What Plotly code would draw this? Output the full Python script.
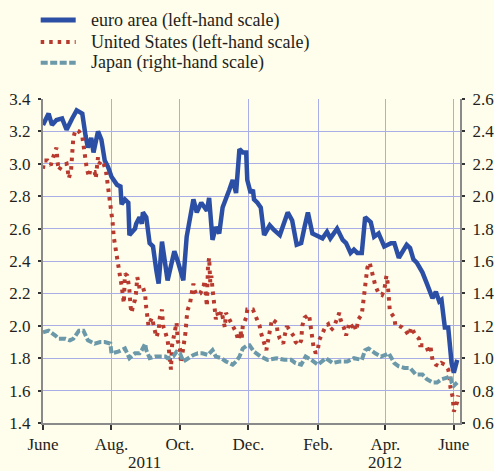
import pandas as pd
import plotly.graph_objects as go

START = "2011-06-01"

# euro area (left-hand scale): day offset from 1 June 2011, yield (%)
euro_days = [0, 5, 8, 12, 17, 21, 26, 30, 35, 36, 38, 40, 43, 45, 49, 52, 55, 58, 61, 66,
             69, 70, 73, 76, 77, 82, 83, 86, 88, 89, 92, 95, 98, 101, 103, 106, 109, 111, 115, 117,
             120, 125, 128, 131, 134, 137, 141, 146, 148, 151, 154, 157, 160, 166, 169, 172, 175, 178, 181, 182,
             185, 187, 188, 191, 194, 197, 202, 206, 211, 218, 222, 226, 230, 233, 236, 240, 245, 249, 253, 256,
             262, 267, 270, 274, 277, 280, 284, 287, 292, 295, 299, 304, 310, 313, 317, 320, 324, 327, 330, 333,
             338, 342, 347, 350, 353, 355, 358, 361, 364, 366, 369]
euro_vals = [3.24, 3.31, 3.24, 3.27, 3.28, 3.21, 3.28, 3.33, 3.31, 3.25, 3.17, 3.10, 3.16, 3.07, 3.20, 3.15, 3.02, 2.98, 2.92, 2.87,
             2.86, 2.75, 2.78, 2.76, 2.56, 2.60, 2.63, 2.67, 2.63, 2.70, 2.67, 2.51, 2.49, 2.34, 2.26, 2.52, 2.35, 2.28, 2.40, 2.46,
             2.40, 2.28, 2.55, 2.66, 2.78, 2.70, 2.76, 2.71, 2.79, 2.53, 2.61, 2.57, 2.73, 2.84, 2.90, 2.82, 3.09, 3.07, 3.07, 2.90,
             2.82, 2.84, 2.78, 2.76, 2.73, 2.56, 2.62, 2.59, 2.56, 2.70, 2.65, 2.50, 2.51, 2.61, 2.70, 2.57, 2.55, 2.54, 2.58, 2.54,
             2.60, 2.53, 2.51, 2.45, 2.47, 2.45, 2.45, 2.67, 2.64, 2.55, 2.57, 2.49, 2.51, 2.51, 2.42, 2.46, 2.50, 2.48, 2.41, 2.39,
             2.33, 2.26, 2.17, 2.21, 2.15, 2.16, 1.99, 1.99, 1.77, 1.71, 1.79]

# United States (left-hand scale)
us_days = [0, 1, 4, 7, 8, 12, 13, 14, 17, 21, 22, 23, 25, 26, 27, 29, 32, 35, 36, 37,
           38, 39, 41, 42, 44, 46, 47, 49, 50, 52, 54, 56, 57, 58, 59, 60, 61, 62, 63, 64,
           65, 67, 68, 69, 70, 71, 72, 73, 75, 76, 77, 78, 79, 80, 82, 83, 84, 85, 86, 89,
           91, 92, 93, 94, 97, 98, 100, 101, 103, 104, 106, 107, 109, 111, 112, 113, 114, 115, 116, 117,
           119, 120, 122, 123, 125, 126, 127, 128, 129, 131, 132, 133, 134, 135, 137, 140, 143, 144, 145, 146,
           147, 148, 149, 150, 151, 152, 153, 154, 155, 157, 159, 160, 162, 163, 166, 169, 172, 174, 176, 177,
           178, 181, 182, 187, 190, 193, 194, 196, 199, 200, 202, 204, 208, 209, 211, 214, 215, 217, 218, 221,
           224, 225, 228, 230, 231, 233, 237, 238, 239, 241, 243, 245, 246, 249, 252, 254, 256, 259, 264, 265,
           268, 270, 273, 276, 277, 279, 281, 284, 285, 286, 287, 288, 289, 291, 293, 295, 296, 299, 302, 304,
           306, 307, 308, 309, 313, 314, 317, 320, 323, 326, 328, 332, 335, 336, 341, 344, 345, 347, 350, 353,
           355, 358, 361, 362, 363, 365, 366, 369, 370]
us_vals = [2.97, 3.02, 3.02, 2.99, 3.02, 3.10, 3.01, 2.96, 2.99, 3.00, 2.96, 2.91, 2.96, 3.06, 3.16, 3.21, 3.20, 3.17, 3.13, 3.07,
           3.02, 2.97, 2.92, 2.96, 2.95, 2.95, 2.91, 3.04, 3.00, 3.02, 3.00, 2.96, 2.91, 2.87, 2.82, 2.78, 2.73, 2.64, 2.55, 2.50,
           2.45, 2.39, 2.34, 2.29, 2.25, 2.20, 2.14, 2.32, 2.31, 2.27, 2.22, 2.12, 2.08, 2.12, 2.16, 2.21, 2.30, 2.27, 2.23, 2.24,
           2.19, 2.11, 2.05, 2.00, 2.05, 2.02, 1.97, 1.93, 1.97, 2.05, 2.10, 2.00, 1.96, 1.91, 1.86, 1.77, 1.73, 1.88, 1.92, 1.97,
           2.02, 1.91, 1.86, 1.77, 1.85, 1.91, 1.96, 2.05, 2.10, 2.14, 2.18, 2.23, 2.26, 2.22, 2.19, 2.20, 2.24, 2.28, 2.18, 2.12,
           2.37, 2.42, 2.27, 2.31, 2.23, 2.18, 2.09, 2.04, 2.08, 2.05, 2.09, 2.05, 1.99, 2.08, 2.04, 1.99, 1.96, 1.91, 1.97, 1.92,
           2.00, 2.05, 2.10, 2.10, 2.05, 2.00, 1.96, 1.92, 1.85, 1.89, 1.97, 2.04, 2.02, 1.96, 1.92, 1.89, 1.93, 1.99, 1.99, 1.96,
           1.93, 1.90, 1.88, 1.91, 2.00, 2.05, 2.07, 2.02, 1.97, 1.87, 1.83, 1.86, 1.91, 1.96, 2.00, 2.01, 1.97, 1.99, 2.08, 2.04,
           1.99, 1.94, 2.02, 1.99, 2.01, 1.97, 2.04, 2.07, 2.12, 2.21, 2.26, 2.30, 2.36, 2.39, 2.34, 2.29, 2.25, 2.20, 2.19, 2.22,
           2.31, 2.27, 2.18, 2.09, 2.05, 2.00, 2.00, 1.99, 1.97, 1.94, 1.99, 1.94, 1.92, 1.88, 1.88, 1.83, 1.88, 1.79, 1.76, 1.75,
           1.77, 1.76, 1.73, 1.70, 1.62, 1.56, 1.47, 1.53, 1.57]

# Japan (right-hand scale)
jp_days = [0, 5, 11, 14, 20, 24, 27, 32, 36, 40, 46, 51, 55, 60, 61, 67, 73, 77, 82, 86,
           88, 91, 92, 95, 100, 104, 109, 111, 116, 119, 122, 125, 129, 134, 138, 142, 147, 151, 154, 159,
           163, 169, 172, 175, 178, 182, 184, 188, 194, 200, 208, 215, 221, 225, 230, 234, 239, 245, 252, 258,
           264, 271, 277, 284, 287, 290, 296, 301, 305, 308, 313, 317, 322, 327, 332, 338, 342, 347, 351, 355,
           360, 363, 364, 366, 369]
jp_vals = [1.16, 1.17, 1.14, 1.12, 1.12, 1.11, 1.12, 1.17, 1.17, 1.11, 1.09, 1.10, 1.10, 1.09, 1.03, 1.04, 1.06, 1.00, 1.03, 1.03,
           1.05, 1.09, 1.05, 1.00, 1.01, 1.01, 1.01, 1.00, 1.01, 1.04, 1.03, 0.98, 1.00, 1.02, 1.03, 1.03, 1.02, 1.05, 1.01, 1.00,
           0.98, 0.96, 0.98, 1.01, 1.06, 1.08, 1.08, 1.04, 1.01, 0.99, 1.00, 0.99, 0.99, 0.97, 0.96, 1.01, 0.99, 0.96, 1.00, 0.97,
           0.98, 0.98, 1.00, 0.99, 1.05, 1.06, 1.03, 1.01, 1.02, 1.03, 0.97, 0.95, 0.94, 0.94, 0.90, 0.90, 0.87, 0.85, 0.85, 0.87,
           0.88, 0.89, 0.85, 0.83, 0.85]

tick_dates = ["2011-06-01", "2011-08-01", "2011-10-01", "2011-12-01", "2012-02-01", "2012-04-01", "2012-06-01"]
tick_labels = ["June", "Aug.", "Oct.", "Dec.", "Feb.", "Apr.", "June"]
year_labels = ["2011", "2012"]
year_dates = ["2011-08-30", "2012-04-01"]
left_ticks = [1.4, 1.6, 1.8, 2.0, 2.2, 2.4, 2.6, 2.8, 3.0, 3.2, 3.4]
right_ticks = [0.6, 0.8, 1.0, 1.2, 1.4, 1.6, 1.8, 2.0, 2.2, 2.4, 2.6]
names = ["euro area (left-hand scale)", "United States (left-hand scale)", "Japan (right-hand scale)"]


def to_dates(days):
    return pd.Timestamp(START) + pd.to_timedelta(days, unit="D")


BG = "#fffdeb"
GRID = "#a9aee6"
AXIS = "#8a8a8a"
FONT = "Liberation Serif, Times New Roman, Times, serif"
TXT = "#231f20"
COLORS = ["#2c4fa6", "#b8392e", "#6b99aa"]
WIDTHS = [4.5, 4, 4]
DASHES = ["solid", "3.5px,5px", "7px,2.5px"]

fig = go.Figure()
fig.add_trace(go.Scatter(x=to_dates(euro_days), y=euro_vals, mode="lines", name=names[0],
                         line=dict(color=COLORS[0], width=WIDTHS[0], dash=DASHES[0])))
fig.add_trace(go.Scatter(x=to_dates(us_days), y=us_vals, mode="lines", name=names[1],
                         line=dict(color=COLORS[1], width=WIDTHS[1], dash=DASHES[1])))
fig.add_trace(go.Scatter(x=to_dates(jp_days), y=jp_vals, mode="lines", name=names[2], yaxis="y2",
                         line=dict(color=COLORS[2], width=WIDTHS[2], dash=DASHES[2])))

# legend drawn as line samples + text labels (paper coordinates)
legend_rows_y = [1.2438, 1.1759, 1.112]
for name, col, w, d, ly in zip(names, COLORS, WIDTHS, DASHES, legend_rows_y):
    fig.add_shape(type="line", xref="paper", yref="paper", x0=-0.0055, x1=0.0784, y0=ly, y1=ly,
                  line=dict(color=col, width=w + 0.5 if d == "solid" else w, dash=d))
    fig.add_annotation(x=0.110, y=ly, xref="paper", yref="paper", xanchor="left", yanchor="middle",
                       text=name, showarrow=False, font=dict(family=FONT, size=18, color=TXT))

for yl, yd in zip(year_labels, year_dates):
    fig.add_annotation(x=yd, y=-0.122, xref="x", yref="paper", yanchor="middle",
                       text=yl, showarrow=False, font=dict(family=FONT, size=17, color=TXT))

fig.update_layout(
    width=494, height=471,
    margin=dict(l=43, r=34, t=99, b=48),
    paper_bgcolor=BG, plot_bgcolor=BG,
    font=dict(family=FONT, size=17, color=TXT),
    showlegend=False,
    xaxis=dict(type="date", range=["2011-06-01", "2012-06-06 12:00"], tickvals=tick_dates, ticktext=tick_labels,
               showgrid=True, gridcolor=GRID, gridwidth=1, showline=True, linecolor=AXIS, linewidth=2,
               ticks="outside", ticklen=5, tickcolor="#333333", tickwidth=2, zeroline=False, automargin=False),
    yaxis=dict(range=[1.4, 3.4], tickvals=left_ticks, tickformat=".1f", showgrid=True, gridcolor=GRID, gridwidth=1,
               showline=True, linecolor=AXIS, linewidth=2, ticks="outside", ticklen=3, tickcolor="#333333",
               tickwidth=2, zeroline=False, ticklabelstandoff=4, automargin=False),
    yaxis2=dict(range=[0.6, 2.6], tickvals=right_ticks, tickformat=".1f", overlaying="y", side="right",
                showgrid=False, showline=True, linecolor=AXIS, linewidth=2, ticks="outside", ticklen=3,
                tickcolor="#333333", tickwidth=2, zeroline=False, ticklabelstandoff=4, automargin=False),
)

fig.write_html("out.html", config={"displayModeBar": False},
               post_script="document.body.style.margin='0px';document.body.style.background='#fffdeb';")
